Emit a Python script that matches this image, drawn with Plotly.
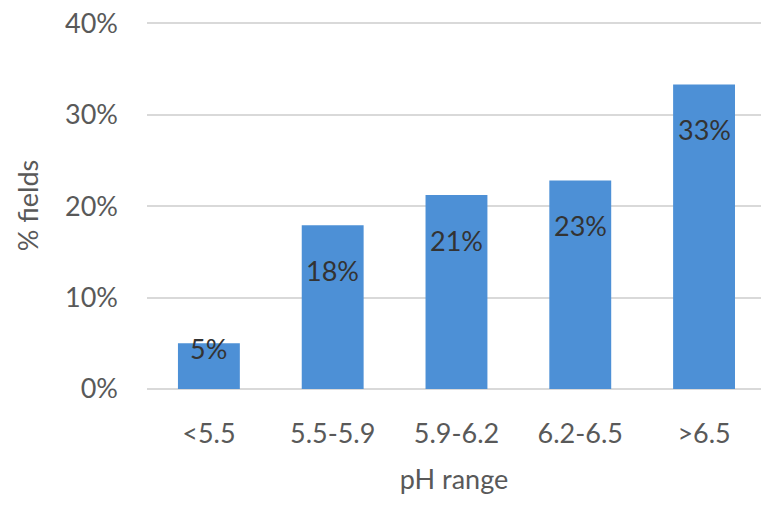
import plotly.graph_objects as go

categories = ["<5.5", "5.5-5.9", "5.9-6.2", "6.2-6.5", ">6.5"]
values = [5.0, 17.9, 21.2, 22.8, 33.3]  # % fields
y_ticks = [0, 10, 20, 30, 40]
y_tick_labels = ["0%", "10%", "20%", "30%", "40%"]

FONT = "Lato"
fig = go.Figure()
fig.add_trace(go.Bar(
    x=categories, y=values, width=0.5,
    marker=dict(color="#4d90d6", line=dict(width=0)),
    hoverinfo="skip",
))

for c, v in zip(categories, values):
    fig.add_annotation(
        x=c, y=v, text=f"{round(v)}%", showarrow=False,
        yanchor="middle", yshift=-45 if v > 10 else -5,
        font=dict(family=FONT, size=27, color="#333333"),
    )

fig.update_layout(
    width=761, height=519,
    margin=dict(l=147, r=0, t=22, b=130),
    paper_bgcolor="white", plot_bgcolor="white",
    showlegend=False,
    font=dict(family=FONT, size=27, color="#595959"),
)
fig.update_xaxes(
    range=[-0.5, 4.46], showgrid=False, showline=False, zeroline=False,
    ticks="", ticklabelstandoff=26, automargin=False,
    tickfont=dict(family=FONT, size=27, color="#595959"),
    title=dict(text="pH range", standoff=22,
               font=dict(family=FONT, size=27, color="#595959")),
)
fig.update_yaxes(
    range=[0, 40.12], tickvals=y_ticks, ticktext=y_tick_labels,
    showgrid=True, gridcolor="#d9d9d9", gridwidth=1.5,
    zeroline=True, zerolinecolor="#d9d9d9", zerolinewidth=1.5,
    showline=False, ticks="", ticklabelstandoff=28, automargin=False,
    tickfont=dict(family=FONT, size=27, color="#595959"),
    title=dict(text="% fields", standoff=18,
               font=dict(family=FONT, size=27, color="#595959")),
)

fig.write_html(
    "out.html",
    config={"displayModeBar": False},
    post_script="document.body.style.margin='0';document.body.style.overflow='hidden';",
)
